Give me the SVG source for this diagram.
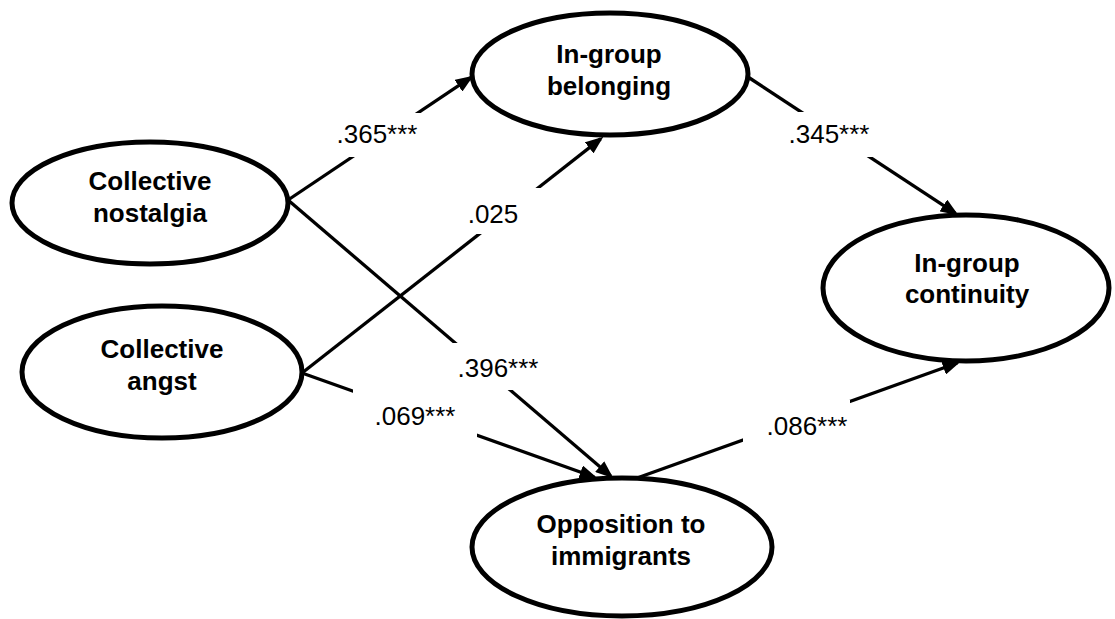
<svg xmlns="http://www.w3.org/2000/svg" width="1115" height="619" viewBox="0 0 1115 619">
  <defs>
    <style>
      .node ellipse { fill: #ffffff; stroke: #000000; stroke-width: 5; }
      .node text { font-family: "Liberation Sans", Arial, sans-serif; font-weight: bold; font-size: 26px; fill: #000000; text-anchor: middle; }
      .conn line { stroke: #000000; stroke-width: 3.3; fill: none; marker-end: url(#arrow); }
      .lbl rect { fill: #ffffff; stroke: none; }
      .lbl text { font-family: "Liberation Sans", Arial, sans-serif; font-size: 26px; fill: #000000; text-anchor: middle; }
    </style>
    <marker id="arrow" markerUnits="userSpaceOnUse" markerWidth="18" markerHeight="14" refX="14.5" refY="7" orient="auto">
      <path d="M0,0 L18,7 L0,14 z" fill="#000000"/>
    </marker>
  </defs>
  <rect x="0" y="0" width="1115" height="619" fill="#ffffff"/>

  <g id="connectors" class="conn">
    <line x1="288" y1="200" x2="470.5" y2="77.7"/>
    <line x1="288" y1="200" x2="610.7" y2="476"/>
    <line x1="302" y1="373" x2="600.6" y2="138.9"/>
    <line x1="302" y1="373" x2="594.2" y2="477"/>
    <line x1="748" y1="77" x2="955.5" y2="213.4"/>
    <line x1="637" y1="478" x2="957.2" y2="363"/>
  </g>

  <g id="labels" class="lbl">
    <rect x="325" y="113" width="107" height="44"/>
    <text x="377" y="143">.365***</text>
    <rect x="450" y="343" width="95" height="47"/>
    <text x="498" y="377">.396***</text>
    <rect x="462" y="188" width="83" height="46"/>
    <text x="493" y="223">.025</text>
    <rect x="353" y="384" width="124" height="58"/>
    <text x="415" y="425">.069***</text>
    <rect x="780" y="112" width="100" height="45"/>
    <text x="829" y="143">.345***</text>
    <rect x="743" y="400" width="107" height="46"/>
    <text x="807" y="435">.086***</text>
  </g>

  <g id="collective-nostalgia" class="node">
    <ellipse cx="150" cy="203" rx="138" ry="61"/>
    <text x="150" y="190">Collective</text>
    <text x="150" y="222">nostalgia</text>
  </g>
  <g id="collective-angst" class="node">
    <ellipse cx="162" cy="372" rx="140" ry="66"/>
    <text x="162" y="358">Collective</text>
    <text x="162" y="390">angst</text>
  </g>
  <g id="ingroup-belonging" class="node">
    <ellipse cx="610" cy="74" rx="138" ry="61"/>
    <text x="609" y="63">In-group</text>
    <text x="609" y="95">belonging</text>
  </g>
  <g id="ingroup-continuity" class="node">
    <ellipse cx="966" cy="288" rx="143" ry="73"/>
    <text x="967" y="272">In-group</text>
    <text x="967" y="303">continuity</text>
  </g>
  <g id="opposition-immigrants" class="node">
    <ellipse cx="622" cy="547" rx="150" ry="69"/>
    <text x="621" y="533">Opposition to</text>
    <text x="621" y="565">immigrants</text>
  </g>
</svg>
